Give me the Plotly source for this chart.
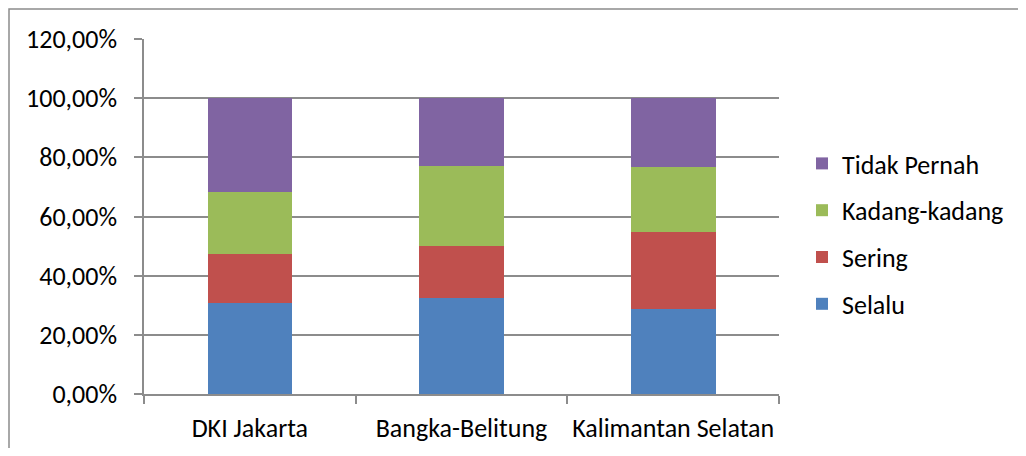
import plotly.graph_objects as go

categories = ["DKI Jakarta", "Bangka-Belitung", "Kalimantan Selatan"]
selalu = [30.7, 32.3, 28.7]
sering = [16.7, 17.7, 25.9]
kadang = [20.9, 27.0, 22.2]
tidak = [31.7, 23.0, 23.2]
series_names = ["Selalu", "Sering", "Kadang-kadang", "Tidak Pernah"]
series_values = [selalu, sering, kadang, tidak]
colors = ["#4F81BD", "#C0504D", "#9BBB59", "#8064A2"]
y_tickvals = [0, 20, 40, 60, 80, 100, 120]
y_ticktext = [f"{v:.2f}".replace(".", ",") + "%" for v in y_tickvals]

FONT = "Carlito, Calibri, Lato, sans-serif"
FS = 26
# page has an 8px body margin; figure sized to fit inside the 1026x456 viewport
W, H = 1010, 440
L, R, T, B = 136, 239, 31, 54
pw, ph = W - L - R, H - T - B

fig = go.Figure()
n = len(series_names)
for i, (name, vals, col) in enumerate(zip(series_names, series_values, colors)):
    fig.add_trace(go.Bar(
        x=categories, y=vals, name=name, marker=dict(color=col, line=dict(width=0)),
        legendgroup=name, legendrank=1000 + (n - i), hoverinfo="skip",
    ))

grid = "#8c8c8c"
fig.update_layout(
    width=W, height=H,
    margin=dict(l=L, r=R, t=T, b=B, pad=0, autoexpand=False),
    barmode="stack", bargap=0.6,
    paper_bgcolor="white", plot_bgcolor="white",
    font=dict(family=FONT, size=FS, color="#000000"),
    showlegend=True,
    legend=dict(
        traceorder="grouped", x=(794 - L) / pw, xanchor="left",
        y=(H - B - 226) / ph, yanchor="middle",
        font=dict(family=FONT, size=FS), tracegroupgap=10,
        itemwidth=30, bgcolor="rgba(0,0,0,0)",
    ),
    xaxis=dict(
        showline=True, linecolor=grid, linewidth=1.5,
        ticks="outside", ticklen=8, tickcolor=grid, tickwidth=1.5,
        tickson="boundaries", showgrid=False, ticklabelstandoff=10,
        tickangle=0, automargin=False,
        tickfont=dict(family=FONT, size=FS),
    ),
    yaxis=dict(
        range=[0, 120], tickvals=y_tickvals, ticktext=y_ticktext,
        showline=True, linecolor=grid, linewidth=1.5,
        ticks="outside", ticklen=8, tickcolor=grid, tickwidth=1.5,
        showgrid=True, gridcolor=grid, gridwidth=1.5, zeroline=False,
        ticklabelstandoff=12, automargin=False,
        tickfont=dict(family=FONT, size=FS),
    ),
)

# outer chart border (extends beyond the cropped right/bottom edges)
fig.add_shape(
    type="rect", xref="paper", yref="paper",
    x0=(1 - L) / pw, x1=(W + 40 - L) / pw,
    y0=(H - B - (H + 40)) / ph, y1=(H - B - 1) / ph,
    line=dict(color=grid, width=1.5), fillcolor="rgba(0,0,0,0)", layer="below",
)

fig.write_html("out.html")
